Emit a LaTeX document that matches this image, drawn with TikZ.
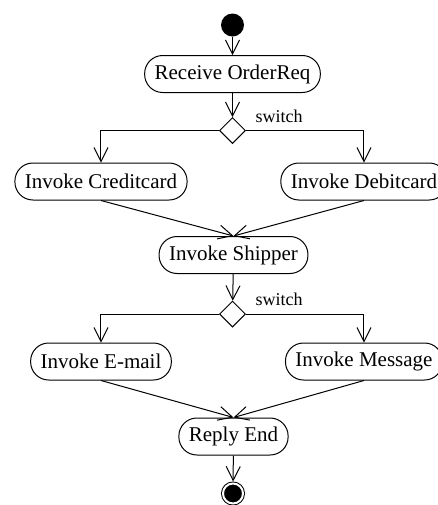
\documentclass[tikz,border=0pt]{standalone}
\usepackage{fontspec}
\setmainfont{Liberation Serif}
\usetikzlibrary{arrows.meta, shapes.geometric}

\tikzset{
	activity/.style={draw, rounded corners=9pt, minimum height=18.5pt, inner xsep=5pt, inner ysep=0pt, font=\fontsize{10.5}{12}\selectfont},
	branch/.style={draw, diamond, minimum size=13pt, inner sep=0pt},
	guard/.style={font=\fontsize{9}{11}\selectfont, inner sep=0pt},
}

\begin{document}
\begin{tikzpicture}[x=.5pt, y=-.5pt, line width=.5pt, >={Straight Barb[length=7pt,width=7pt]}]
	\useasboundingbox (0,0) rectangle (438,505);
	
	\begin{scope}
	\node (start) at (232.5,25) [circle, fill, minimum size=11.5pt, inner sep=0pt] {};
	\node (receive) at (232.5,74) [activity] {Receive OrderReq};
	\node (sw1) at (232.5,130.5) [branch] {};
	\node (sw1lbl) at (279,116) [guard] {switch};
	\end{scope}
	
	\begin{scope}
	\node (credit) at (101,181.5) [activity] {Invoke Creditcard};
	\node (debit) at (364,181.5) [activity] {Invoke Debitcard};
	\node (shipper) at (233.5,255) [activity] {Invoke Shipper};
	\node (sw2) at (232.5,314) [branch] {};
	\node (sw2lbl) at (279,299) [guard] {switch};
	\end{scope}
	
	\begin{scope}
	\node (email) at (101,361.5) [activity] {Invoke E-mail};
	\node (message) at (364,361.5) [activity] {Invoke Message};
	\node (reply) at (233.5,436.5) [activity] {Reply End};
	\node (stop) at (233,493.5) [circle, draw, fill, double=white, double distance=1pt, minimum size=10pt, inner sep=0pt, outer sep=1pt] {};
	\end{scope}
	
	\begin{scope}[->]
	\draw (start) -- (receive);
	\draw (receive) -- (sw1);
	\draw (sw1.west) -| (credit);
	\draw (sw1.east) -| (debit);
	\draw (credit.south) -- (shipper.north);
	\draw (debit.south) -- (shipper.north);
	\draw (shipper) -- (sw2);
	\draw (sw2.west) -| (email);
	\draw (sw2.east) -| (message);
	\draw (email.south) -- (reply.north);
	\draw (message.south) -- (reply.north);
	\draw (reply) -- (stop);
	\end{scope}
\end{tikzpicture}
\end{document}
